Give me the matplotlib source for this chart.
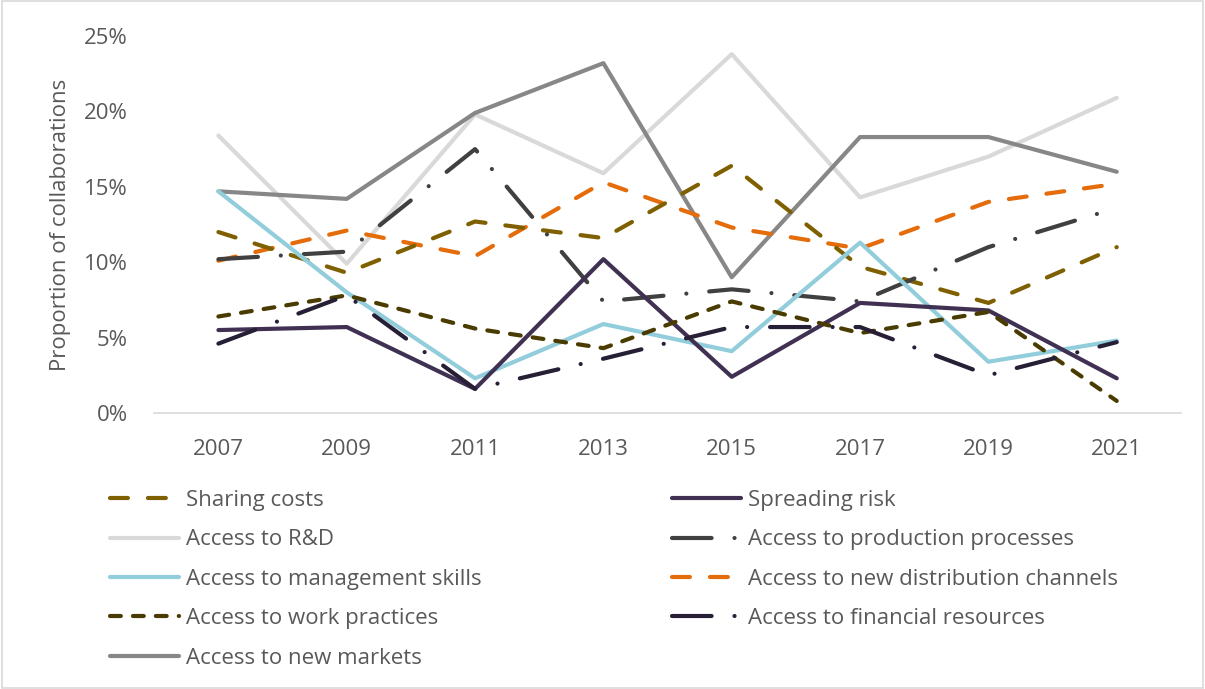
import matplotlib.pyplot as plt
from matplotlib.patches import Rectangle
from matplotlib.ticker import FuncFormatter

plt.rcParams['font.family'] = ['Open Sans', 'DejaVu Sans']

years = [2007, 2009, 2011, 2013, 2015, 2017, 2019, 2021]

# values in percent
sharing_costs = [12.0, 9.3, 12.7, 11.6, 16.4, 9.7, 7.3, 11.0]
spreading_risk = [5.5, 5.7, 1.6, 10.2, 2.4, 7.3, 6.8, 2.3]
access_rd = [18.4, 9.9, 19.8, 15.9, 23.8, 14.3, 17.0, 20.9]
production = [10.2, 10.7, 17.5, 7.4, 8.2, 7.4, 11.0, 13.6]
management = [14.7, 8.0, 2.3, 5.9, 4.1, 11.3, 3.4, 4.8]
distribution = [10.1, 12.1, 10.4, 15.3, 12.3, 10.9, 14.0, 15.2]
work_practices = [6.4, 7.8, 5.6, 4.3, 7.4, 5.3, 6.7, 0.8]
financial = [4.6, 7.8, 1.6, 3.6, 5.7, 5.7, 2.5, 4.7]
new_markets = [14.7, 14.2, 19.9, 23.2, 9.0, 18.3, 18.3, 16.0]

txt = '#595959'

fig = plt.figure(figsize=(12.05, 6.89), dpi=100)
fig.patches.append(Rectangle((0.002, 0.002), 0.996, 0.996, transform=fig.transFigure,
                             fill=False, edgecolor='#d9d9d9', lw=1.2))
ax = fig.add_axes([0.128, 0.4006, 0.852, 0.5471])

lw = 3.0
solid = dict(lw=lw, solid_capstyle='round', solid_joinstyle='round')
dashed = dict(lw=lw, dash_capstyle='round', dash_joinstyle='round')
dash = (0, (4.3, 4.8))
sysdash = (0, (2.6, 2.9))
lgdashdot = (0, (9.5, 5.5, 0.01, 5.5))

series = [
    # label, values, color, style
    ('Access to R&D', access_rd, '#d9d9d9', None),
    ('Access to new markets', new_markets, '#878787', None),
    ('Access to new distribution channels', distribution, '#e46c0a', dash),
    ('Sharing costs', sharing_costs, '#7f6000', dash),
    ('Access to production processes', production, '#404040', lgdashdot),
    ('Access to management skills', management, '#92cddc', None),
    ('Spreading risk', spreading_risk, '#403152', None),
    ('Access to work practices', work_practices, '#4a3b00', sysdash),
    ('Access to financial resources', financial, '#261f36', lgdashdot),
]

handles = {}
for label, vals, color, ls in series:
    if ls is None:
        ln, = ax.plot(years, vals, color=color, label=label, **solid)
    else:
        ln, = ax.plot(years, vals, color=color, linestyle=ls, label=label, **dashed)
    handles[label] = ln

ax.set_xlim(2006, 2022)
ax.set_ylim(0, 25)
ax.set_xticks(years)
ax.set_yticks([0, 5, 10, 15, 20, 25])
ax.yaxis.set_major_formatter(FuncFormatter(lambda v, p: f'{v:.0f}%'))
for s in ['top', 'right', 'left']:
    ax.spines[s].set_visible(False)
ax.spines['bottom'].set_color('#d9d9d9')
ax.spines['bottom'].set_linewidth(1.2)
ax.tick_params(length=0, labelsize=16, colors=txt)
ax.tick_params(axis='x', pad=19)
ax.tick_params(axis='y', pad=19)
ax.set_ylabel('Proportion of collaborations', fontsize=16, color=txt)
ax.yaxis.set_label_coords(-0.081, 0.5)

col1 = ['Sharing costs', 'Access to R&D', 'Access to management skills',
        'Access to work practices', 'Access to new markets']
col2 = ['Spreading risk', 'Access to production processes',
        'Access to new distribution channels', 'Access to financial resources']

leg_kw = dict(frameon=False, fontsize=16, handlelength=3.1, handletextpad=0.3,
              labelspacing=0.83, borderaxespad=0, borderpad=0, labelcolor=txt)
leg1 = fig.legend([handles[k] for k in col1], col1, loc='upper left',
                  bbox_to_anchor=(0.0913, 0.289), **leg_kw)
leg2 = fig.legend([handles[k] for k in col2], col2, loc='upper left',
                  bbox_to_anchor=(0.5577, 0.289), **leg_kw)

fig.savefig('out.png', dpi=100)
